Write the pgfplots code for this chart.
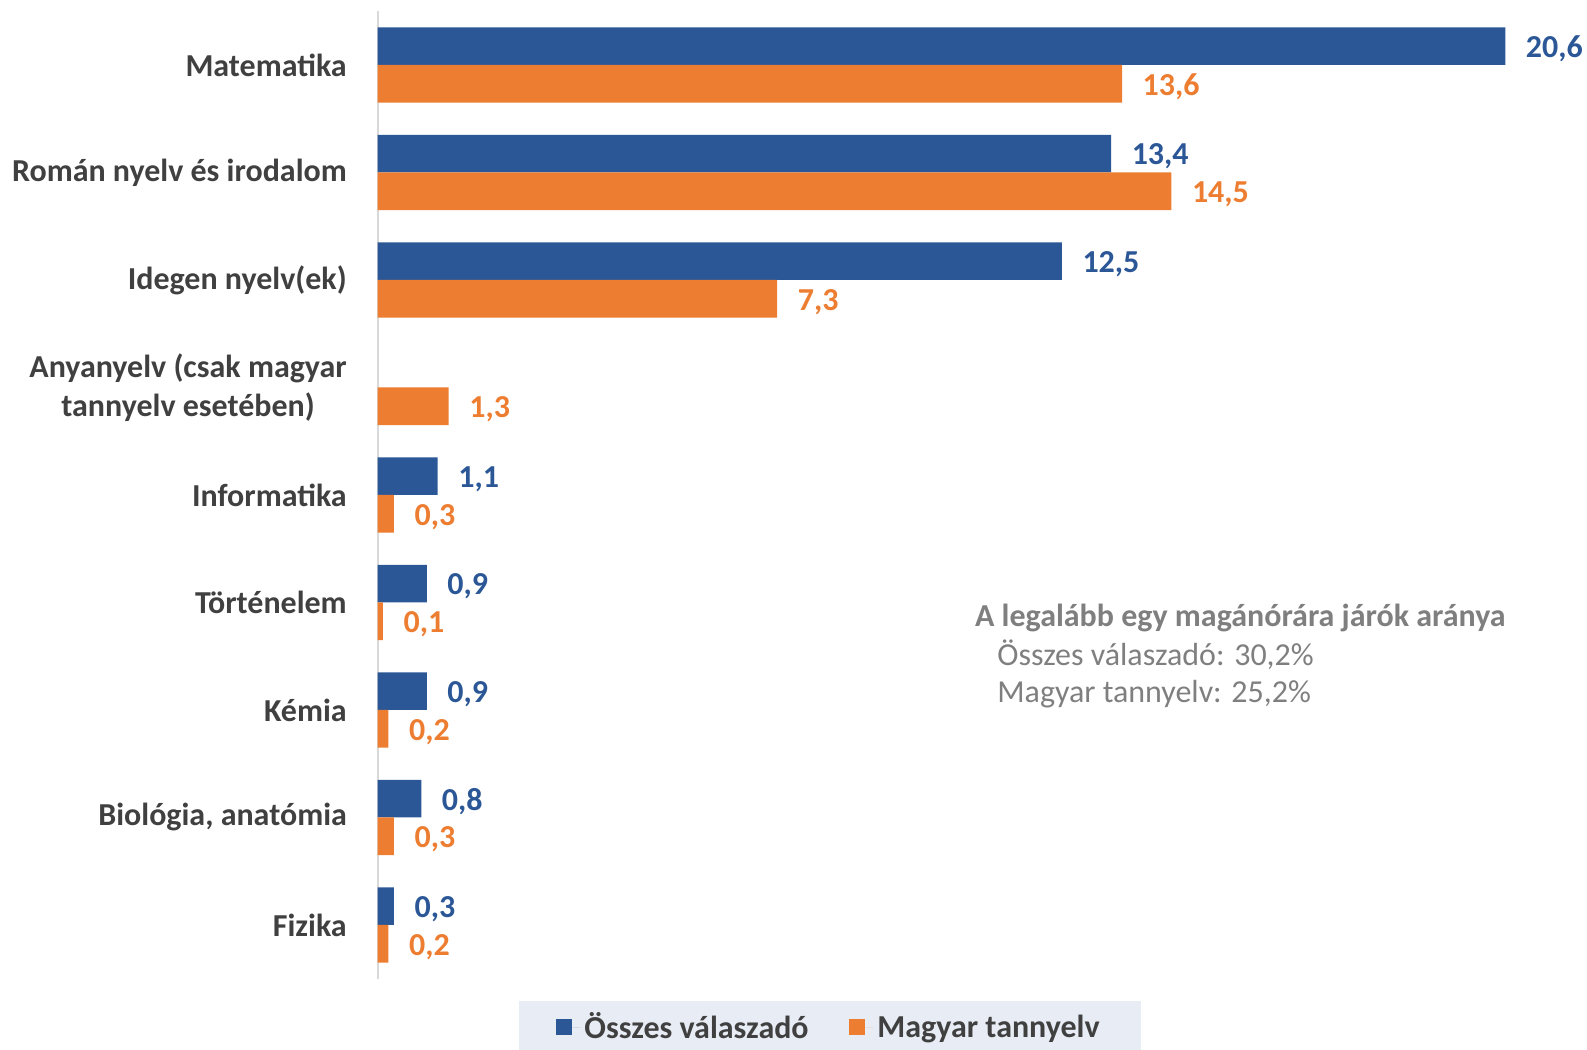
\documentclass[border=0pt]{standalone}
\usepackage{fontspec}
\setmainfont{Carlito}
\usepackage{pgfplots}
\pgfplotsset{compat=1.18}
\definecolor{cblue}{HTML}{2B5797}
\definecolor{corange}{HTML}{ED7D31}
\definecolor{labgray}{HTML}{404040}
\definecolor{notegray}{HTML}{7F7F7F}
\definecolor{axgray}{HTML}{D9D9D9}
\definecolor{legbg}{HTML}{E8ECF4}
\newcommand{\lfont}{\fontsize{15.8}{19.5}\selectfont\bfseries}
\begin{document}
\begin{tikzpicture}[x=1pt,y=1pt]
\useasboundingbox (0,0) rectangle (784,518.5);
\begin{axis}[
  at={(186.5pt,35pt)}, anchor=south west,
  scale only axis, width=595pt, height=478pt,
  xbar, xmin=0, xmax=22, ymin=-0.5, ymax=8.5, y dir=reverse,
  bar width=0.35,
  axis x line=none, axis y line*=left,
  y axis line style={axgray, line width=1pt},
  ytick={0,...,8},
  yticklabels={Matematika, Román nyelv és irodalom, Idegen nyelv(ek), {Anyanyelv (csak magyar\\tannyelv esetében)}, Informatika, Történelem, Kémia, {Biológia, anatómia}, Fizika},
  yticklabel style={font=\lfont, text=labgray, align=center, inner sep=0pt, xshift=-15pt},
  major tick length=0pt,
  clip=false,
  nodes near coords,
  /pgf/number format/.cd, fixed, fixed zerofill, precision=1, use comma, assume math mode=true,
  /pgfplots/.cd,
  every node near coord/.append style={font=\lfont, anchor=west, inner sep=0pt, xshift=10pt, yshift=-1.5pt},
  legend style={at={(0.3756,-0.0503)}, anchor=center, fill=legbg, draw=none,
    font=\lfont, text=labgray, inner xsep=18.5pt, inner ysep=4pt,
    /tikz/every even column/.append style={column sep=18pt}},
  legend columns=2,
]
\addplot[fill=cblue, draw=none, bar shift=-0.175,
  every node near coord/.append style={text=cblue},
  legend image code/.code={\fill[cblue] (0pt,-4pt) rectangle (8pt,4pt); \path (8pt,0pt) -- (12pt,0pt);}]
  coordinates {(20.6,0) (13.4,1) (12.5,2) (1.1,4) (0.9,5) (0.9,6) (0.8,7) (0.3,8)};
\addlegendentry{Összes válaszadó}
\addplot[fill=corange, draw=none, bar shift=0.175,
  every node near coord/.append style={text=corange},
  legend image code/.code={\fill[corange] (0pt,-4pt) rectangle (8pt,4pt); \path (8pt,0pt) -- (12pt,0pt);}]
  coordinates {(13.6,0) (14.5,1) (7.3,2) (1.3,3) (0.3,4) (0.1,5) (0.2,6) (0.3,7) (0.2,8)};
\addlegendentry{Magyar tannyelv}
\end{axis}
\node[anchor=west, inner sep=0pt, font=\lfont, text=notegray] at (481.5,213) {A legalább egy magánórára járók aránya};
\node[anchor=west, inner sep=0pt, font=\fontsize{15.8}{19.5}\selectfont, text=notegray] at (492.5,195) {Összes válaszadó: 30,2\%};
\node[anchor=west, inner sep=0pt, font=\fontsize{15.8}{19.5}\selectfont, text=notegray] at (492.5,175.5) {Magyar tannyelv: 25,2\%};
\end{tikzpicture}
\end{document}
